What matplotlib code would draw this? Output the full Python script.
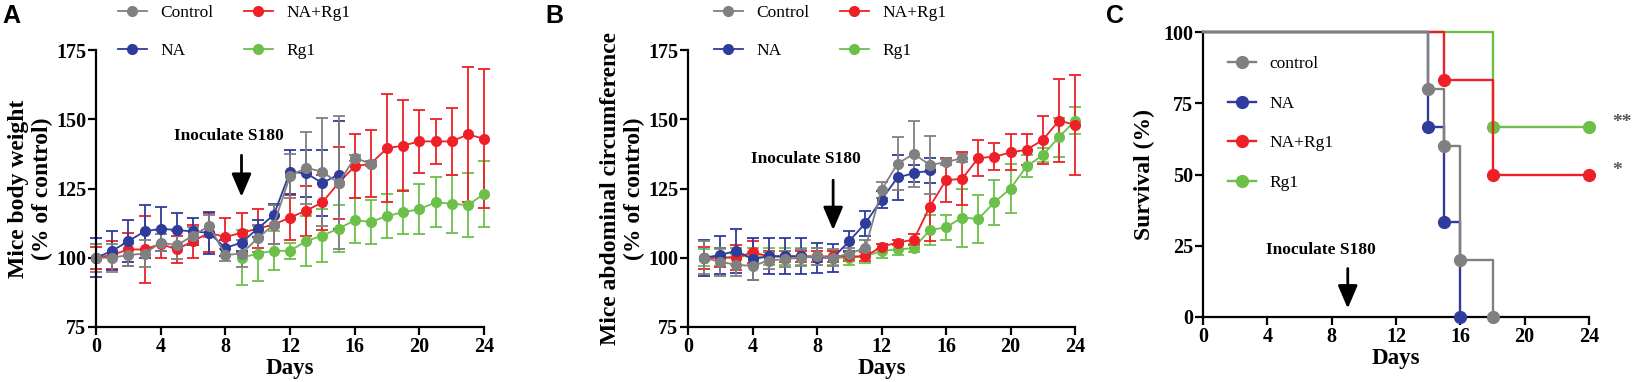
import numpy as np
import matplotlib
matplotlib.use("Agg")
import matplotlib.pyplot as plt
from matplotlib.lines import Line2D

plt.rcParams['font.family'] = ['Liberation Serif', 'DejaVu Serif']

# ---------------- data ----------------
groups = ['Control', 'NA', 'NA+Rg1', 'Rg1']
colors = {'Control': '#808080', 'NA': '#2e3c9c', 'NA+Rg1': '#ee2027', 'Rg1': '#6cc04a'}

# panel A: body weight (% of control)
a_days = {'Control': np.arange(0, 18), 'NA': np.arange(0, 16),
          'NA+Rg1': np.arange(0, 25), 'Rg1': np.arange(9, 25)}
a_mean = {
    'Control': [100, 100, 101, 101.5, 105.5, 104.5, 108, 111.5, 101, 101.5, 107, 112, 129.5, 132.5, 131, 127, 136, 134],
    'NA': [100, 102.5, 106, 109.5, 110.5, 110, 109.5, 109, 103.5, 105.5, 110.5, 115.5, 131, 130.5, 127, 130],
    'NA+Rg1': [100, 101, 103, 103, 105, 103, 106, 109, 107.5, 109, 110.5, 112, 114.5, 117, 120, 127, 133, 134,
               139.5, 140.5, 142, 142, 142, 144.5, 143],
    'Rg1': [100, 101.5, 102.5, 102.5, 106, 108, 110.5, 113.5, 113, 115, 116.5, 117.5, 120, 119.5, 119, 123],
}
a_err = {
    'Control': [5, 5, 4, 5, 3, 5, 3, 4, 2, 5, 5, 7, 8, 13, 19.5, 24, 1, 1],
    'NA': [7, 7, 7.5, 9.5, 8, 6, 5, 7.5, 3, 3, 3, 4, 8, 8.5, 12, 19.5],
    'NA+Rg1': [4, 5, 6, 12, 5, 5, 6, 7, 7, 7, 7, 7, 8, 9, 10, 13, 11.5, 12, 19.5, 16.5, 11.5, 8, 12, 24.5, 25],
    'Rg1': [10, 10, 7, 3, 9, 9.5, 8.5, 8, 8, 8, 8, 9, 9, 10.5, 11.5, 12],
}

# panel B: abdominal circumference (% of control)
b_days = {'Control': np.arange(1, 18), 'NA': np.arange(1, 16),
          'NA+Rg1': np.arange(1, 25), 'Rg1': np.arange(1, 25)}
b_mean = {
    'Control': [100, 98.5, 97.5, 97, 99, 99.5, 100, 100.5, 100, 101.5, 103.5, 124.5, 134, 137.5, 133.5, 134.5, 136],
    'NA': [100, 101, 102.5, 99.5, 100.5, 100.5, 100.5, 100, 100, 106, 112.5, 121, 129, 130.5, 131.5],
    'NA+Rg1': [100, 100, 100, 102, 100.5, 100.5, 100.5, 100.5, 100.5, 100.5, 100.5, 104, 105.5, 106.5, 118.5, 128,
               128.5, 136, 136.5, 138, 139, 142.5, 149.5, 148],
    'Rg1': [100, 100, 100.5, 100.5, 100.5, 100.5, 100.5, 100.5, 100, 100, 100.5, 102.5, 103, 103.5, 110, 111, 114.5,
            114, 120, 125, 133, 137, 143.5, 149.5],
}
b_err = {
    'Control': [6, 5, 4, 5, 3, 3, 3, 3, 3, 2, 3, 3, 9.5, 12, 10.5, 1, 1.5],
    'NA': [6.5, 7, 8, 7.5, 6.5, 6.5, 6.5, 5.5, 5, 3.5, 4.5, 3, 8, 3, 4.5],
    'NA+Rg1': [4, 3.5, 4.5, 4, 2, 2, 2, 2, 2, 1.5, 1.5, 1, 1, 2, 12.5, 8, 9.5, 6.5, 5, 6.5, 5.5, 8.5, 15, 18],
    'Rg1': [3, 3, 3, 3, 3, 3, 3, 3, 2.5, 2.5, 2.5, 2.5, 2, 1.5, 5.5, 4.5, 10.5, 8.5, 8, 9, 4, 2.5, 7, 5],
}

# panel C: survival (%)
c_days = {'control': [0, 14, 15, 16, 18], 'NA': [0, 14, 15, 16],
          'NA+Rg1': [0, 15, 18, 24], 'Rg1': [0, 18, 24]}
c_surv = {'control': [100, 80, 60, 20, 0], 'NA': [100, 66.7, 33.3, 0],
          'NA+Rg1': [100, 83.3, 50, 50], 'Rg1': [100, 66.7, 66.7]}
c_color = {'control': '#808080', 'NA': '#2e3c9c', 'NA+Rg1': '#ee2027', 'Rg1': '#6cc04a'}
c_sig = {'Rg1': '**', 'NA+Rg1': '*'}

W, H = 1636, 382
fig = plt.figure(figsize=(W / 100, H / 100), dpi=100)


def px_axes(l, t, r, b):
    return fig.add_axes([l / W, 1 - b / H, (r - l) / W, (b - t) / H])


def style_axes(ax):
    for s in ['top', 'right']:
        ax.spines[s].set_visible(False)
    for s in ['left', 'bottom']:
        ax.spines[s].set_linewidth(1.6)
    ax.tick_params(width=1.6, length=6, labelsize=14.5, pad=1)
    for lab in ax.get_xticklabels() + ax.get_yticklabels():
        lab.set_fontweight('bold')


def line_panel(ax, days, mean, err, order):
    for g in order:
        ax.errorbar(days[g], mean[g], yerr=err[g], color=colors[g], marker='o', ms=7, lw=1.3,
                    elinewidth=1.3, capsize=4, capthick=1.3, clip_on=False, label=g)
    ax.set_xlim(0, 24)
    ax.set_ylim(75, 175)
    ax.set_xticks(range(0, 25, 4))
    ax.set_yticks([75, 100, 125, 150, 175])
    ax.set_xlabel('Days', fontsize=16.5, fontweight='bold', labelpad=1)
    style_axes(ax)


def legend_top(ax, x_left):
    h = [Line2D([], [], color=colors[g], marker='o', ms=7, lw=1.3) for g in groups]
    ax.legend(h, groups, ncol=2, loc='upper left', bbox_to_anchor=(x_left / W, 1 - 5 / H),
              bbox_transform=fig.transFigure, frameon=False, fontsize=12.5, handlelength=1.65,
              handletextpad=0.8, columnspacing=1.75, labelspacing=1.25, borderpad=0, borderaxespad=0)


ARROW = dict(arrowstyle='-|>,head_length=0.7,head_width=0.3', lw=2, color='k',
             mutation_scale=20, shrinkA=0, shrinkB=0)

# ---- A ----
axA = px_axes(96, 50, 484, 327)
line_panel(axA, a_days, a_mean, a_err, ['Rg1', 'NA+Rg1', 'NA', 'Control'])
axA.set_ylabel('Mice body weight\n(% of control)', fontsize=17, fontweight='bold', labelpad=2)
legend_top(axA, 118)
axA.annotate('', xy=(9, 122), xytext=(9, 137), arrowprops=ARROW)
axA.text(8.2, 144, 'Inoculate S180', ha='center', va='center', fontsize=12.5, fontweight='bold')

# ---- B ----
axB = px_axes(688, 50, 1075, 327)
line_panel(axB, b_days, b_mean, b_err, ['Rg1', 'NA+Rg1', 'NA', 'Control'])
axB.set_ylabel('Mice abdominal circumference\n(% of control)', fontsize=17, fontweight='bold', labelpad=2)
legend_top(axB, 714)
axB.annotate('', xy=(9, 110), xytext=(9, 128), arrowprops=ARROW)
axB.text(7.3, 135.5, 'Inoculate S180', ha='center', va='center', fontsize=12.5, fontweight='bold')

# ---- C ----
axC = px_axes(1203, 32, 1589, 317)
for z, g in enumerate(['Rg1', 'NA+Rg1', 'NA', 'control']):
    axC.step(c_days[g], c_surv[g], where='post', color=c_color[g], lw=1.7, zorder=2 + z, clip_on=False)
    axC.plot(c_days[g][1:], c_surv[g][1:], 'o', color=c_color[g], ms=8.5, zorder=2 + z, clip_on=False)
for g, s in c_sig.items():
    axC.text(c_days[g][-1] + 1.45, c_surv[g][-1] + 1.5, s, ha='left', va='center', fontsize=14,
             fontweight='bold', color='#555555')
axC.set_xlim(0, 24)
axC.set_ylim(0, 100)
axC.set_xticks(range(0, 25, 4))
axC.set_yticks([0, 25, 50, 75, 100])
axC.set_xlabel('Days', fontsize=16.5, fontweight='bold', labelpad=1)
axC.set_ylabel('Survival (%)', fontsize=17, fontweight='bold', labelpad=6)
style_axes(axC)
hc = [Line2D([], [], color=c_color[g], marker='o', ms=8.5, lw=1.7) for g in c_days]
axC.legend(hc, list(c_days), loc='upper left', bbox_to_anchor=(1228 / W, 1 - 56 / H),
           bbox_transform=fig.transFigure, frameon=False, fontsize=12.5, handlelength=1.6,
           handletextpad=0.8, labelspacing=1.35, borderpad=0, borderaxespad=0)
axC.annotate('', xy=(9, 3), xytext=(9, 17), arrowprops=ARROW)
axC.text(7.3, 23.5, 'Inoculate S180', ha='center', va='center', fontsize=12.5, fontweight='bold')

# panel letters
for x, s in [(2, 'A'), (545, 'B'), (1106, 'C')]:
    fig.text(x / W, 1 - 4 / H, s, ha='left', va='top', fontsize=18, fontweight='bold',
             family=['Liberation Sans', 'DejaVu Sans'])

fig.savefig('out.png', dpi=100)
